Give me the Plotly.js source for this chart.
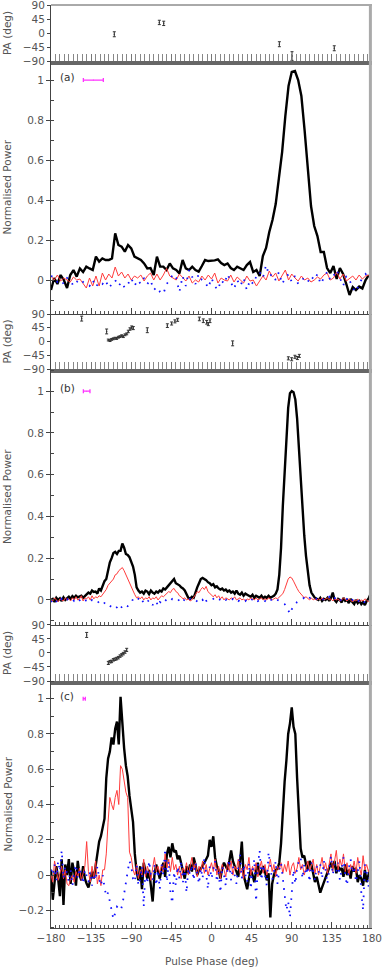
<!DOCTYPE html>
<html>
<head>
<meta charset="utf-8">
<script src="https://cdn.plot.ly/plotly-3.0.1.min.js"></script>
<style>
  html, body { margin: 0; padding: 0; background: #fff; }
  #chart { width: 382px; height: 967px; }
</style>
</head>
<body>
<div id="chart"></div>
<script>
// ---- profile (a): 3.6 deg bins starting at -180
const startA = -180, binA = 3.6;
const totalA = [
  -0.05, 0.01, -0.02, 0.025, 0.0, -0.04, 0.025, 0.05, 0.017, 0.058,
  0.04, 0.067, 0.058, 0.05, 0.117, 0.092, 0.108, 0.1, 0.1, 0.108,
  0.233, 0.175, 0.167, 0.142, 0.175, 0.158, 0.117, 0.108, 0.1, 0.083,
  0.058, 0.06, 0.025, 0.117, 0.067, 0.067, 0.05, 0.083, 0.058, 0.05,
  0.033, 0.1, 0.058, 0.05, 0.067, 0.05, 0.042, 0.07, 0.1, 0.095,
  0.095, 0.098, 0.103, 0.085, 0.075, 0.083, 0.06, 0.05, 0.067, 0.058,
  0.05, 0.075, 0.09, 0.04, 0.05, 0.02, 0.12, 0.16, 0.24, 0.3,
  0.38, 0.51, 0.64, 0.82, 0.97, 1.04, 1.045, 1.0, 0.92, 0.75,
  0.56, 0.37, 0.27, 0.22, 0.14, 0.14, 0.06, 0.035, 0.07, 0.005,
  0.06, 0.03, -0.02, -0.075, -0.035, -0.05, -0.033, -0.042, 0.0, 0.025
];
const linA = [
  0.02, 0.0, 0.025, -0.005, 0.01, 0.0, -0.01, 0.015, 0.0, 0.005,
  -0.02, -0.04, 0.01, -0.03, 0.02, -0.03, 0.035, 0.0, 0.03, 0.01,
  0.065, 0.02, 0.04, 0.01, 0.03, 0.0, 0.02, 0.01, 0.025, -0.005,
  0.02, 0.035, 0.0, 0.03, 0.0, 0.025, 0.058, 0.02, 0.01, 0.0,
  0.03, 0.01, -0.005, 0.02, -0.015, 0.0, -0.01, 0.02, 0.0, 0.025,
  0.005, 0.035, -0.015, 0.01, 0.0, -0.005, 0.025, -0.01, 0.015, 0.0,
  -0.015, 0.02, -0.005, 0.0, -0.03, -0.005, 0.02, 0.0, 0.045, 0.015,
  0.035, -0.005, 0.02, 0.05, 0.0, 0.03, 0.01, -0.005, 0.02, 0.0,
  0.01, -0.01, 0.0, 0.015, 0.005, 0.025, 0.035, 0.0, 0.01, 0.04,
  0.005, 0.03, -0.005, 0.01, 0.02, 0.0, 0.025, 0.005, 0.02, 0.025
];
const circA = [
  0.02, 0.015, -0.01, 0.0, -0.02, 0.01, 0.0, -0.03, -0.01, 0.005,
  -0.01, -0.02, -0.03, 0.0, -0.035, -0.01, -0.02, 0.0, -0.04, -0.02,
  0.0, -0.03, -0.01, -0.04, -0.02, 0.01, -0.03, 0.0, -0.02, 0.01,
  -0.02, 0.0, -0.05, -0.035, -0.06, -0.07, -0.02, 0.0, 0.03, 0.01,
  -0.06, 0.02, -0.03, 0.05, 0.01, -0.02, 0.03, 0.0, -0.01, -0.04,
  0.01, -0.03, -0.05, 0.0, -0.02, 0.03, -0.01, -0.045, 0.0, -0.03,
  0.01, -0.05, 0.0, -0.02, 0.02, 0.04, 0.01, 0.075, 0.02, 0.03,
  0.0, 0.04, -0.02, 0.01, 0.03, -0.01, 0.02, -0.02, 0.0, 0.01,
  -0.01, 0.02, 0.0, 0.03, -0.02, 0.01, 0.04, 0.0, 0.02, 0.05,
  0.01, -0.03, 0.02, 0.0, -0.04, -0.06, -0.02, 0.01, 0.03, 0.0
];

// ---- profile (b): 2 deg bins starting at -180
const startB = -180, binB = 2;
const totalB = [
  0.0, 0.005, -0.01, 0.01, 0.0, 0.008, -0.005, 0.012, 0.0, 0.01,
  0.015, 0.005, 0.018, 0.01, 0.02, 0.012, 0.015, 0.02, 0.01, 0.018,
  0.025, 0.035, 0.03, 0.045, 0.038, 0.04, 0.03, 0.055, 0.045, 0.07,
  0.09, 0.1, 0.15, 0.18, 0.2, 0.225, 0.23, 0.22, 0.235, 0.235,
  0.27, 0.25, 0.22, 0.215, 0.205, 0.18, 0.16, 0.12, 0.06, 0.045,
  0.035, 0.04, 0.03, 0.045, 0.04, 0.028, 0.045, 0.035, 0.03, 0.04,
  0.035, 0.045, 0.04, 0.055, 0.05, 0.06, 0.07, 0.075, 0.085, 0.1,
  0.08, 0.075, 0.07, 0.06, 0.055, 0.045, 0.03, 0.01, 0.005, 0.015,
  0.01, 0.04, 0.06, 0.08, 0.1, 0.105, 0.1, 0.095, 0.085, 0.08,
  0.07, 0.075, 0.06, 0.065, 0.055, 0.05, 0.055, 0.045, 0.05, 0.04,
  0.045, 0.035, 0.04, 0.03, 0.045, 0.03, 0.025, 0.035, 0.02, 0.03,
  0.025, 0.02, 0.015, 0.025, 0.01, 0.02, 0.015, 0.01, 0.02, 0.008,
  0.015, 0.01, 0.02, 0.01, 0.015, 0.02, 0.03, 0.05, 0.12, 0.25,
  0.45, 0.62, 0.79, 0.92, 0.99, 1.0, 0.995, 0.96, 0.87, 0.73,
  0.58, 0.43, 0.31, 0.21, 0.13, 0.07, 0.035, 0.02, 0.01, 0.005,
  0.0, 0.01, -0.005, 0.005, 0.0, 0.01, -0.005, 0.01, 0.035, 0.0,
  -0.01, 0.005, 0.0, -0.012, 0.01, -0.005, 0.0, -0.015, 0.005, -0.01,
  -0.02, 0.0, -0.015, -0.005, -0.02, -0.01, -0.025, -0.005, 0.005, 0.025
];
const linB = [
  0.0, -0.005, 0.01, 0.0, -0.01, 0.005, 0.0, -0.005, 0.01, 0.0,
  0.005, -0.005, 0.01, 0.0, 0.015, 0.0, 0.005, 0.02, -0.005, 0.01,
  0.005, 0.015, 0.0, 0.02, 0.005, 0.015, 0.01, 0.02, 0.015, 0.025,
  0.035, 0.05, 0.07, 0.08, 0.095, 0.1, 0.12, 0.125, 0.14, 0.15,
  0.155, 0.14, 0.12, 0.1, 0.085, 0.06, 0.04, 0.025, 0.01, 0.015,
  0.005, 0.015, 0.0, 0.01, 0.005, 0.015, 0.0, 0.01, 0.005, 0.015,
  0.0, 0.01, 0.02, 0.015, 0.025, 0.03, 0.04, 0.035, 0.05, 0.055,
  0.04, 0.035, 0.02, 0.015, 0.005, 0.01, 0.0, 0.005, -0.005, 0.0,
  0.01, 0.025, 0.04, 0.035, 0.05, 0.06, 0.05, 0.065, 0.04, 0.03,
  0.02, 0.015, 0.025, 0.01, 0.02, 0.005, 0.015, 0.0, 0.01, 0.005,
  0.0, 0.01, 0.005, 0.015, 0.0, 0.005, 0.01, 0.0, 0.005, -0.005,
  0.005, 0.0, 0.01, 0.005, 0.0, 0.01, 0.0, 0.005, 0.01, 0.0,
  0.005, 0.0, 0.01, 0.005, 0.0, 0.005, 0.01, 0.005, 0.015, 0.02,
  0.03, 0.05, 0.075, 0.1, 0.11, 0.105, 0.09, 0.07, 0.055, 0.04,
  0.03, 0.02, 0.01, 0.015, 0.005, 0.0, 0.01, 0.0, 0.005, 0.0,
  0.005, 0.0, 0.01, 0.0, 0.005, 0.01, 0.0, 0.005, -0.005, 0.005,
  0.0, 0.005, -0.005, 0.0, 0.01, 0.0, -0.005, 0.005, 0.0, -0.01,
  0.0, -0.005, 0.005, -0.01, 0.0, -0.005, 0.005, 0.0, -0.01, 0.0
];
const circB = [
  -0.01, 0.0, -0.015, -0.005, 0.0, -0.01, 0.005, -0.005, 0.0, 0.005,
  -0.005, 0.0, 0.005, -0.005, 0.0, -0.01, 0.0, 0.005, -0.005, 0.0,
  -0.005, 0.0, -0.01, 0.0, -0.005, -0.01, -0.005, -0.015, -0.01, -0.02,
  -0.015, -0.025, -0.02, -0.03, -0.035, -0.03, -0.04, -0.035, -0.025, -0.04,
  -0.03, -0.035, -0.025, -0.03, -0.02, -0.015, 0.005, 0.01, 0.0, 0.005,
  -0.01, 0.0, -0.015, -0.005, -0.01, 0.0, -0.005, -0.025, -0.01, -0.005,
  -0.03, -0.01, -0.015, 0.0, -0.005, 0.005, 0.0, -0.005, 0.005, 0.0,
  0.0, 0.005, -0.005, 0.0, -0.01, 0.005, -0.005, 0.0, 0.005, 0.0,
  -0.005, 0.0, -0.01, -0.015, -0.01, 0.0, -0.02, -0.005, 0.0, 0.005,
  0.0, 0.005, -0.005, 0.0, 0.005, 0.0, -0.005, 0.005, 0.0, 0.005,
  0.0, -0.005, 0.005, 0.0, 0.005, -0.005, 0.0, 0.005, 0.0, -0.005,
  0.005, 0.0, -0.005, 0.005, 0.0, 0.005, -0.005, 0.0, 0.005, 0.0,
  -0.005, 0.005, 0.0, 0.005, -0.005, 0.0, 0.005, 0.0, -0.005, -0.01,
  -0.015, -0.02, -0.03, -0.05, -0.067, -0.045, -0.03, -0.02, -0.01, -0.005,
  0.0, 0.005, 0.01, 0.005, 0.0, 0.01, 0.005, 0.0, 0.01, 0.005,
  0.005, 0.01, 0.0, 0.005, 0.01, 0.005, 0.015, 0.0, 0.005, 0.01,
  0.0, 0.005, -0.005, 0.005, 0.0, -0.005, 0.005, 0.0, -0.01, 0.0,
  -0.005, 0.005, 0.0, -0.01, -0.005, 0.0, -0.015, -0.005, 0.0, 0.005
];

// ---- profile (c): 2 deg bins starting at -180
const startC = -180, binC = 2;
const totalC = [
  0.03, -0.14, -0.04, 0.05, -0.02, -0.12, 0.09, -0.17, 0.06, 0.0,
  0.09, -0.05, 0.07, 0.02, -0.06, 0.08, 0.0, -0.03, 0.05, -0.02,
  -0.05, -0.07, -0.03, 0.02, -0.02, 0.05, 0.11, 0.19, 0.22, 0.28,
  0.32, 0.55, 0.66, 0.7, 0.78, 0.74, 0.83, 0.87, 0.74, 1.01,
  0.85, 0.72, 0.62, 0.56, 0.45, 0.36, 0.3, 0.12, 0.02, -0.03,
  0.05, -0.08, 0.07, 0.02, -0.02, 0.03, -0.06, -0.15, 0.0, 0.06,
  0.02, -0.02, 0.03, 0.07, -0.01, 0.12, 0.16, 0.1, 0.18, 0.13,
  0.14, 0.09, 0.11, 0.06, 0.03, -0.02, 0.05, 0.01, 0.06, 0.02,
  0.1, 0.06, 0.0, 0.03, 0.035, 0.05, 0.07, 0.09, 0.11, 0.2,
  0.16, 0.22, 0.1, 0.05, 0.03, -0.02, 0.04, 0.07, 0.05, 0.03,
  0.08, 0.14, 0.08, 0.05, 0.01, -0.01, 0.07, 0.19, 0.0, -0.04,
  -0.08, -0.02, 0.03, 0.0, -0.04, 0.02, 0.07, 0.0, 0.02, 0.05,
  0.02, -0.03, 0.01, -0.24, -0.05, 0.0, 0.03, 0.035, 0.07, 0.18,
  0.37, 0.53, 0.65, 0.8, 0.86, 0.95, 0.84, 0.8, 0.55, 0.3,
  0.15, 0.1, 0.11, 0.06, 0.03, 0.08, 0.06, 0.01, -0.04, -0.01,
  -0.06, -0.1, -0.07, -0.04, -0.01, 0.02, 0.05, 0.07, 0.04, 0.08,
  0.01, 0.05, 0.03, 0.04, -0.01, 0.06, 0.0, 0.03, -0.02, 0.05,
  0.02, 0.04, -0.04, 0.0, -0.02, -0.06, 0.03, -0.04, 0.0, 0.03
];
const linC = [
  0.0, -0.04, 0.08, 0.02, -0.03, 0.01, 0.05, -0.02, 0.03, -0.05,
  -0.06, -0.02, 0.0, -0.04, 0.02, -0.01, 0.04, -0.03, 0.01, 0.05,
  0.19, 0.02, -0.04, 0.05, -0.02, 0.08, -0.05, 0.0, -0.06, 0.03,
  0.03, 0.12, 0.3, 0.44, 0.4, 0.37, 0.44, 0.48, 0.4, 0.62,
  0.6, 0.52, 0.47, 0.44, 0.13, 0.1, 0.03, 0.0, 0.06, -0.02,
  0.03, 0.0, 0.09, -0.01, 0.05, 0.02, -0.03, 0.04, 0.1, 0.02,
  0.05, 0.01, 0.06, 0.02, 0.12, 0.04, 0.09, 0.02, 0.1, 0.03,
  0.06, 0.0, 0.05, -0.02, 0.04, 0.02, 0.07, 0.0, 0.06, 0.1,
  0.03, 0.07, -0.01, 0.05, 0.02, 0.08, 0.01, 0.06, 0.0, 0.04,
  0.07, 0.02, 0.09, 0.0, 0.05, -0.02, 0.06, 0.03, -0.01, 0.07,
  0.02, 0.08, 0.0, 0.05, 0.03, 0.09, 0.01, 0.04, -0.02, 0.06,
  0.03, 0.1, 0.0, 0.05, 0.02, 0.07, -0.01, 0.04, 0.08, 0.01,
  0.06, 0.0, 0.04, 0.09, 0.02, 0.06, -0.01, 0.05, 0.03, 0.07,
  0.01, 0.06, 0.02, 0.08, 0.0, 0.05, 0.07, 0.01, 0.04, 0.1,
  0.03, 0.06, 0.0, 0.04, 0.08, 0.02, 0.05, 0.09, 0.01, 0.06,
  0.0, 0.05, 0.1, 0.03, 0.07, 0.01, 0.06, 0.12, 0.02, 0.08,
  0.14, 0.03, 0.09, 0.05, 0.12, 0.02, 0.07, 0.0, 0.06, 0.03,
  0.08, 0.01, 0.1, 0.04, 0.0, 0.11, 0.03, 0.06, 0.02, 0.05
];
const circC = [
  0.03, 0.0, 0.06, -0.03, 0.08, 0.02, 0.14, -0.02, 0.05, 0.01,
  -0.04, 0.03, -0.06, 0.02, 0.06, -0.02, 0.04, 0.0, -0.05, 0.03,
  0.0, -0.04, 0.02, -0.06, 0.01, -0.03, 0.05, -0.02, -0.06, 0.0,
  -0.07, -0.12, -0.1, -0.16, -0.2, -0.25, -0.22, -0.18, -0.19, -0.2,
  -0.17, -0.1, -0.02, 0.02, 0.08, 0.05, -0.02, -0.04, 0.06, -0.06,
  -0.02, 0.05, -0.18, 0.04, -0.05, 0.08, 0.0, -0.03, 0.06, -0.06,
  0.03, -0.08, 0.06, 0.0, 0.15, -0.04, 0.08, -0.1, -0.16, 0.02,
  -0.06, 0.05, -0.02, 0.08, -0.04, 0.03, -0.1, 0.04, 0.0, 0.06,
  -0.03, 0.07, 0.01, -0.05, 0.04, -0.02, 0.1, 0.0, -0.08, 0.05,
  -0.02, 0.03, 0.08, -0.04, 0.02, -0.1, 0.05, 0.0, -0.06, 0.04,
  0.09, -0.03, 0.05, 0.0, -0.05, 0.04, 0.12, -0.02, 0.06, 0.0,
  -0.04, 0.07, -0.08, 0.02, 0.09, -0.15, 0.05, 0.14, -0.03, 0.06,
  0.0, -0.06, 0.13, 0.04, -0.03, 0.02, 0.08, -0.05, 0.03, 0.07,
  -0.02, -0.12, -0.2, -0.15, -0.24, -0.1, 0.03, -0.05, 0.04, 0.08,
  0.1, -0.02, 0.06, 0.0, 0.05, -0.04, 0.07, 0.02, -0.03, 0.05,
  0.01, 0.06, -0.02, 0.08, 0.03, -0.05, 0.04, 0.11, 0.0, 0.06,
  0.02, 0.07, -0.03, 0.05, 0.1, 0.0, -0.06, 0.04, 0.09, 0.01,
  0.05, -0.04, 0.03, 0.08, -0.1, -0.2, 0.06, 0.02, -0.07, 0.04
];

// ---- position angles
const paPhaseA = [-109, -58.5, -53.6, 76.1, 90.3, 137.7];
const paA      = [-4, 34, 31, -36, -74, -49];
const paErrA   = [8, 7, 7, 8, 14, 8];

const paPhaseB = [-145.6, -117.6, -115.7, -113.8, -112.0, -110.1, -108.2, -106.4, -104.5, -102.6,
                  -100.7, -98.9, -97.0, -95.1, -93.3, -91.4, -89.5, -87.7, -72.0, -49.5,
                  -44.7, -41.0, -38.0, -13.6, -9.2, -5.4, -3.6, -1.7, 23.7,
                  86.2, 89.9, 93.6, 96.3, 98.5];
const paB      = [75, 33, 5, 3, 7, 9, 11, 10, 14, 16,
                  19, 16, 22, 25, 33, 41, 46, 44, 37, 52,
                  59, 66, 71, 74, 68, 63, 57, 68, -6,
                  -55, -58, -50, -54, -47];
const paErrB   = [8, 8, 3, 3, 3, 3, 3, 3, 3, 3,
                  3, 3, 3, 3, 4, 4, 5, 5, 8, 6,
                  5, 5, 5, 6, 6, 6, 5, 6, 8,
                  5, 5, 5, 5, 5];

const paPhaseC = [-140, -115.7, -113.8, -112.0, -110.1, -108.2, -106.4, -104.5, -102.6, -100.7, -98.9, -97.0, -95.1];
const paC      = [58, -32, -28, -27, -22, -20, -18, -15, -10, -6, -2, 3, 10];
const paErrC   = [8, 5, 4, 4, 4, 4, 4, 4, 4, 4, 4, 4, 5];

// ---- resolution bars (magenta) and panel labels
const resPhase = [-132.5, -140.0, -142.7];
const resHalf  = [11.2, 3.7, 1.2];
const panelLabels = ['(a)', '(b)', '(c)'];

const ink = '#555';
const fnt = {family: 'DejaVu Sans', size: 10.5, color: ink};

function profileTraces(x0, dx, tot, lin, circ, xa, ya, res) {
  return [
    {x0: x0, dx: dx, y: tot, xaxis: xa, yaxis: ya, type: 'scatter', mode: 'lines',
     line: {color: '#000', width: 2.4}, hoverinfo: 'skip'},
    {x0: x0, dx: dx, y: lin, xaxis: xa, yaxis: ya, type: 'scatter', mode: 'lines',
     line: {color: '#ff3b3b', width: 1}, hoverinfo: 'skip'},
    {x0: x0, dx: dx, y: circ, xaxis: xa, yaxis: ya, type: 'scatter', mode: 'lines',
     line: {color: '#1010ff', width: 1.8, dash: '1.6px,6.5px'}, hoverinfo: 'skip'},
    {x: [resPhase[res]], y: [1.0], xaxis: xa, yaxis: ya, type: 'scatter', mode: 'markers',
     marker: {size: 1, color: '#ff33ff'},
     error_x: {type: 'data', array: [resHalf[res]], color: '#ff33ff', thickness: 1.3, width: 2}}
  ];
}
function paTrace(ph, pa, err, xa, ya) {
  return {x: ph, y: pa, xaxis: xa, yaxis: ya, type: 'scatter', mode: 'markers',
          marker: {size: 1.5, color: '#333'},
          error_y: {type: 'data', array: err, color: '#333', thickness: 1, width: 1.5}};
}

const data = [
  paTrace(paPhaseA, paA, paErrA, 'x', 'y'),
  ...profileTraces(startA, binA, totalA, linA, circA, 'x2', 'y2', 0),
  paTrace(paPhaseB, paB, paErrB, 'x3', 'y3'),
  ...profileTraces(startB, binB, totalB, linB, circB, 'x4', 'y4', 1),
  paTrace(paPhaseC, paC, paErrC, 'x5', 'y5'),
  ...profileTraces(startC, binC, totalC, linC, circC, 'x6', 'y6', 2)
];

function xPA(anchor) {
  return {anchor: anchor, range: [-180, 180], showgrid: false, zeroline: false,
          showticklabels: false, showline: true, linecolor: '#666', linewidth: 3.5,
          ticks: 'inside', ticklen: 7, tickcolor: '#777', tick0: -180, dtick: 45,
          minor: {ticks: 'inside', ticklen: 7, tickcolor: '#888', tick0: -180, dtick: 5}};
}
function xProf(anchor, labels) {
  return {anchor: anchor, range: [-180, 180], showgrid: false, zeroline: false,
          showticklabels: labels, showline: true, linecolor: '#444', linewidth: 1,
          ticks: 'inside', ticklen: 6, tickcolor: '#444', tick0: -180, dtick: 45,
          tickfont: fnt, ticklabeloverflow: 'allow',
          minor: {ticks: 'inside', ticklen: 3, tickcolor: '#555', tick0: -180, dtick: 5}};
}
function yPA(anchor, dom) {
  return {anchor: anchor, domain: dom, range: [-90, 90], showgrid: false, zeroline: false,
          tickvals: [-90, -45, 0, 45, 90], ticks: 'outside', ticklen: 3, tickcolor: '#444',
          showline: true, linecolor: '#444', linewidth: 1, tickfont: fnt,
          ticklabeloverflow: 'allow'};
}
function yProf(anchor, dom, rng) {
  return {anchor: anchor, domain: dom, range: rng, showgrid: false, zeroline: false,
          tick0: 0, dtick: 0.2, ticks: 'outside', ticklen: 4, tickcolor: '#444',
          showline: true, linecolor: '#444', linewidth: 1, tickfont: fnt,
          ticklabeloverflow: 'allow',
          minor: {ticks: 'inside', ticklen: 3, tickcolor: '#444', tick0: 0, dtick: 0.1}};
}

const domPA1 = [0.9393, 1], domA = [0.6652, 0.9393];
const domPA2 = [0.6056, 0.6652], domB = [0.3283, 0.6056];
const domPA3 = [0.2676, 0.3283], domC = [0, 0.2676];

const titleX = -0.137;
function yTitle(text, dom) {
  return {text: text, xref: 'paper', yref: 'paper', x: titleX, y: (dom[0] + dom[1]) / 2,
          textangle: -90, showarrow: false, xanchor: 'center', yanchor: 'middle', font: fnt};
}
function panelLabel(i, xa, ya) {
  return {text: panelLabels[i], xref: xa, yref: ya, x: -172, y: 1.017, showarrow: false,
          xanchor: 'left', yanchor: 'middle', font: {family: 'DejaVu Sans', size: 10.5, color: '#333'}};
}

const layout = {
  width: 382, height: 967,
  margin: {l: 51, r: 10, t: 5, b: 39},
  paper_bgcolor: '#fff', plot_bgcolor: '#fff',
  showlegend: false,
  font: fnt,
  xaxis: xPA('y'), yaxis: yPA('x', domPA1),
  xaxis2: xProf('y2', false), yaxis2: yProf('x2', domA, [-0.17, 1.095]),
  xaxis3: xPA('y3'), yaxis3: yPA('x3', domPA2),
  xaxis4: xProf('y4', false), yaxis4: yProf('x4', domB, [-0.12, 1.106]),
  xaxis5: xPA('y5'), yaxis5: yPA('x5', domPA3),
  xaxis6: xProf('y6', true), yaxis6: yProf('x6', domC, [-0.3, 1.10]),
  annotations: [
    yTitle('PA (deg)', domPA1), yTitle('Normalised Power', domA),
    yTitle('PA (deg)', domPA2), yTitle('Normalised Power', domB),
    yTitle('PA (deg)', domPA3), yTitle('Normalised Power', domC),
    panelLabel(0, 'x2', 'y2'), panelLabel(1, 'x4', 'y4'), panelLabel(2, 'x6', 'y6'),
    {text: 'Pulse Phase (deg)', xref: 'paper', yref: 'paper', x: 0.5, y: -0.0358,
     showarrow: false, xanchor: 'center', yanchor: 'middle', font: fnt}
  ],
  shapes: [
    {type: 'line', xref: 'paper', yref: 'paper', x0: 0, x1: 1, y0: 1, y1: 1,
     line: {color: '#555', width: 1}},
    {type: 'line', xref: 'paper', yref: 'paper', x0: 0.995, x1: 0.995, y0: 0, y1: 1,
     line: {color: '#aaa', width: 3}}
  ]
};

Plotly.newPlot('chart', data, layout, {displayModeBar: false, staticPlot: true});
</script>
</body>
</html>
